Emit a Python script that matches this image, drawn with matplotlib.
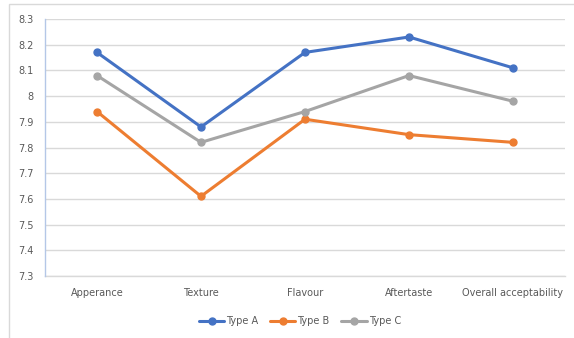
import matplotlib
matplotlib.use("Agg")
import matplotlib.pyplot as plt
from matplotlib.patches import Rectangle

categories = ["Apperance", "Texture", "Flavour", "Aftertaste", "Overall acceptability"]
type_a = [8.17, 7.88, 8.17, 8.23, 8.11]
type_b = [7.94, 7.61, 7.91, 7.85, 7.82]
type_c = [8.08, 7.82, 7.94, 8.08, 7.98]
series_names = ["Type A", "Type B", "Type C"]
y_ticks = [7.3, 7.4, 7.5, 7.6, 7.7, 7.8, 7.9, 8, 8.1, 8.2, 8.3]
y_tick_labels = ["7.3", "7.4", "7.5", "7.6", "7.7", "7.8", "7.9", "8", "8.1", "8.2", "8.3"]

colors = ["#4472C4", "#ED7D31", "#A5A5A5"]
text_color = "#595959"

plt.rcParams["font.family"] = ["DejaVu Sans"]

fig = plt.figure(figsize=(5.74, 3.38), dpi=100)
fig.patch.set_facecolor("white")
# chart frame (runs off the right and bottom edges)
fig.patches.append(Rectangle((8.5 / 574, -10 / 338), 600 / 574, (334 + 10) / 338,
                             transform=fig.transFigure, fill=False,
                             edgecolor="#D9D9D9", linewidth=1))

ax = fig.add_axes([45 / 574, 1 - 276 / 338, 520 / 574, (276 - 19) / 338])
x = list(range(len(categories)))
for vals, name, col in zip([type_a, type_b, type_c], series_names, colors):
    ax.plot(x, vals, color=col, linewidth=2.2, marker="o", markersize=5,
            label=name, solid_capstyle="round", zorder=3)

ax.set_xlim(-0.5, len(categories) - 0.5)
ax.set_ylim(7.3, 8.3)
ax.set_yticks(y_ticks)
ax.set_yticklabels(y_tick_labels)
ax.set_xticks(x)
ax.set_xticklabels(categories)
ax.yaxis.grid(True, color="#D9D9D9", linewidth=1)
ax.set_axisbelow(True)
for s in ["top", "right", "bottom"]:
    ax.spines[s].set_visible(False)
ax.spines["left"].set_color("#B4C7E7")
ax.spines["left"].set_linewidth(1)
ax.axhline(7.3, color="#D9D9D9", linewidth=1, zorder=1, clip_on=False)
ax.tick_params(axis="both", length=0, labelsize=7, labelcolor=text_color)
ax.tick_params(axis="y", pad=8)
ax.tick_params(axis="x", pad=9)

leg = fig.legend(loc="center", bbox_to_anchor=(300 / 574, 1 - 321 / 338), ncol=3,
                 frameon=False, fontsize=7, handlelength=2.6, handletextpad=0.2,
                 columnspacing=1.2, labelcolor=text_color)

fig.savefig("out.png", dpi=100)
